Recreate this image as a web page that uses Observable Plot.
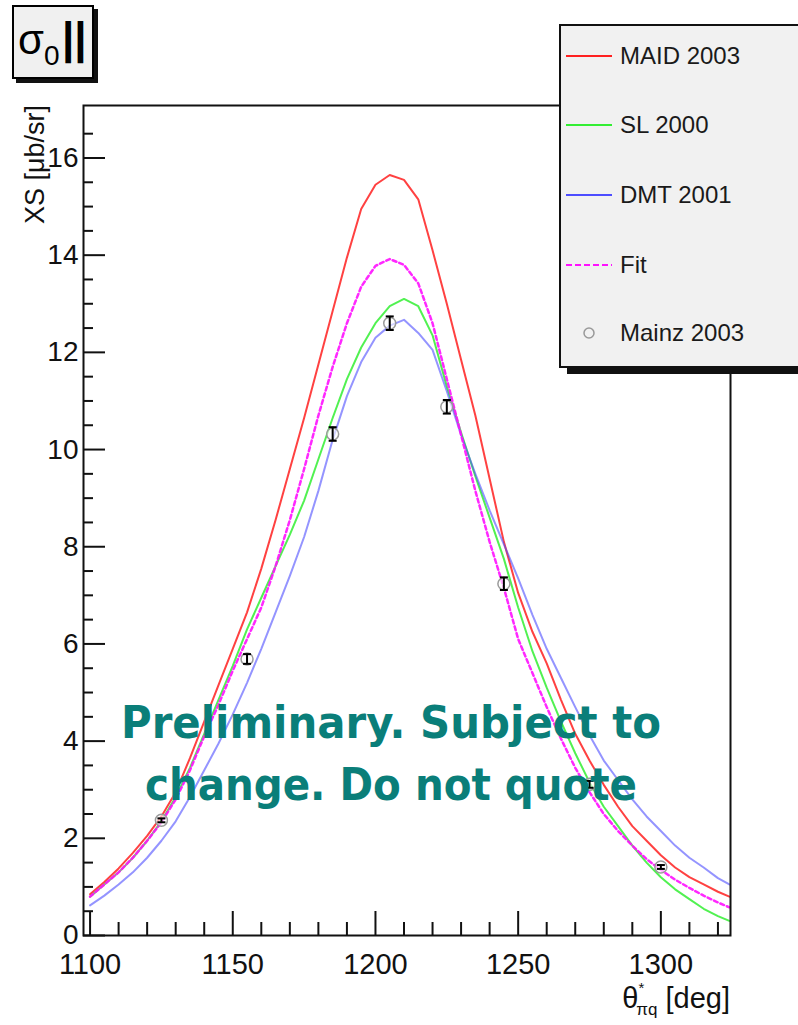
<!DOCTYPE html>
<html><head><meta charset="utf-8">
<script src="https://cdn.jsdelivr.net/npm/d3@7"></script>
<script src="https://cdn.jsdelivr.net/npm/@observablehq/plot@0.6"></script>
<style>
html,body{margin:0;padding:0;background:#fff;overflow:hidden;width:798px;height:1025px;}
#wrap{position:relative;width:798px;height:1025px;overflow:hidden;font-family:"Liberation Sans",Arial,sans-serif;}
#chart{position:absolute;left:0;top:0;}
#titlebox{position:absolute;left:12px;top:5px;width:82px;height:74px;box-sizing:border-box;border:2px solid #000;background:#f0f0f0;box-shadow:4px 4px 0 #111;}
#titlebox span{position:absolute;line-height:1;color:#000;white-space:nowrap;}
#legend{position:absolute;left:559px;top:24px;width:300px;height:344px;box-sizing:border-box;border:2px solid #111;background:#f1f1f1;box-shadow:8px 6px 0 #111;}
.row{position:absolute;left:0;height:30px;width:280px;}
.row svg{position:absolute;left:0;top:0;}
.row span{position:absolute;left:59px;top:0;line-height:30px;font-size:24px;color:#1a1a1a;white-space:nowrap;}
</style>
</head><body>
<div id="wrap">
  <div id="chart"></div>
  <div id="titlebox"><span style="left:4px;top:12px;font-size:42px;">σ</span><span style="left:30px;top:35px;font-size:28px;">0</span><span style="left:48px;top:9px;font-size:44px;font-weight:bold;">||</span></div>
  <div id="legend"></div>
</div>
<script>
// ---- data ----
const theta = [1100,1105,1110,1115,1120,1125,1130,1135,1140,1145,1150,1155,1160,1165,1170,1175,1180,1185,1190,1195,1200,1205,1210,1215,1220,1225,1230,1235,1240,1245,1250,1255,1260,1265,1270,1275,1280,1285,1290,1295,1300,1305,1310,1315,1320,1324];
const maid2003 = [0.85,1.1,1.38,1.7,2.05,2.45,2.95,3.65,4.4,5.15,5.9,6.65,7.55,8.55,9.6,10.65,11.75,12.85,13.95,14.95,15.45,15.65,15.55,15.15,14.1,13.0,11.85,10.7,9.4,8.1,7.05,6.25,5.6,4.85,4.15,3.6,3.1,2.65,2.25,1.95,1.65,1.4,1.2,1.05,0.9,0.8];
const sl2000 = [0.8,1.05,1.3,1.6,1.95,2.35,2.85,3.45,4.15,4.85,5.55,6.3,6.95,7.6,8.25,8.95,9.8,10.65,11.45,12.1,12.6,12.95,13.1,12.95,12.35,11.3,10.35,9.45,8.6,7.75,6.75,5.85,5.1,4.4,3.75,3.15,2.65,2.25,1.85,1.5,1.2,0.95,0.75,0.55,0.4,0.3];
const dmt2001 = [0.62,0.82,1.05,1.3,1.6,1.95,2.35,2.85,3.4,3.95,4.55,5.2,5.9,6.65,7.4,8.2,9.15,10.2,11.1,11.8,12.3,12.55,12.67,12.4,12.05,11.2,10.3,9.5,8.75,8.05,7.35,6.6,5.9,5.3,4.7,4.12,3.6,3.2,2.8,2.45,2.15,1.85,1.6,1.4,1.18,1.05];
const fit = [0.8,1.05,1.3,1.6,1.95,2.33,2.8,3.4,4.1,4.75,5.45,6.1,6.75,7.6,8.55,9.6,10.7,11.7,12.6,13.35,13.78,13.92,13.8,13.42,12.6,11.45,10.3,9.15,8.1,7.15,6.1,5.4,4.7,4.05,3.45,2.95,2.5,2.15,1.85,1.57,1.35,1.15,0.98,0.82,0.68,0.58];

const mainzTheta = [1125,1155,1185,1205,1225,1245,1275,1300];
const mainzXS    = [2.37,5.69,10.32,12.6,10.88,7.24,3.11,1.41];
const mainzErr   = [0.04,0.1,0.14,0.14,0.14,0.13,0.07,0.04];

const seriesNames  = ["MAID 2003","SL 2000","DMT 2001","Fit","Mainz 2003"];
const seriesColors = ["#ff2020","#33ee33","#4d4dff","#ff11ff","#999999"];

const xMajor = [1100,1150,1200,1250,1300];
const xMinor = [1110,1120,1130,1140,1160,1170,1180,1190,1210,1220,1230,1240,1260,1270,1280,1290,1310,1320];
const yMajor = [0,2,4,6,8,10,12,14,16];
const yMinor = [0.5,1,1.5,2.5,3,3.5,4.5,5,5.5,6.5,7,7.5,8.5,9,9.5,10.5,11,11.5,12.5,13,13.5,14.5,15,15.5,16.5];

// ---- tables ----
const rows = (vals) => theta.map((t, i) => ({theta: t, xs: vals[i]}));
const points = mainzTheta.map((t, i) => ({theta: t, xs: mainzXS[i], lo: mainzXS[i] - mainzErr[i], hi: mainzXS[i] + mainzErr[i]}));

const cap = {draw(ctx, size) { const w = Math.sqrt(size / Math.PI); ctx.moveTo(-w, 0); ctx.lineTo(w, 0); }};

const W = 798, H = 1025, mL = 83, mR = 68, mT = 105, mB = 90;
const plotW = W - mL - mR, plotH = H - mT - mB;

const chart = Plot.plot({
  width: W, height: H,
  marginLeft: mL, marginRight: mR, marginTop: mT, marginBottom: mB,
  x: {domain: [1097.7, 1324.4]},
  y: {domain: [0, 17.08]},
  style: {fontFamily: "'Liberation Sans', Arial, sans-serif", background: "transparent", color: "#111", overflow: "visible"},
  marks: [
    Plot.line(rows(maid2003), {x: "theta", y: "xs", stroke: seriesColors[0], strokeWidth: 2, strokeOpacity: 0.85}),
    Plot.line(rows(sl2000), {x: "theta", y: "xs", stroke: seriesColors[1], strokeWidth: 2, strokeOpacity: 0.85}),
    Plot.line(rows(dmt2001), {x: "theta", y: "xs", stroke: seriesColors[2], strokeWidth: 2, strokeOpacity: 0.6}),
    Plot.line(rows(fit), {x: "theta", y: "xs", stroke: seriesColors[3], strokeWidth: 2.5, strokeDasharray: "4,3", strokeOpacity: 0.9}),
    Plot.dot(points, {x: "theta", y: "xs", r: 6, stroke: "#9a9a9a", strokeWidth: 1.5, fill: "#fff", fillOpacity: 0.6}),
    Plot.ruleX(points, {x: "theta", y1: "lo", y2: "hi", stroke: "#000", strokeWidth: 2}),
    Plot.dot(points, {x: "theta", y: "lo", symbol: cap, r: 4, stroke: "#000", strokeWidth: 2}),
    Plot.dot(points, {x: "theta", y: "hi", symbol: cap, r: 4, stroke: "#000", strokeWidth: 2}),
    Plot.tickY(yMinor, {y: d => d, insetRight: plotW - 10, stroke: "#111", strokeWidth: 2}),
    Plot.tickY(yMajor, {y: d => d, insetRight: plotW - 22, stroke: "#111", strokeWidth: 2}),
    Plot.tickX(xMinor, {x: d => d, insetTop: plotH - 13, stroke: "#111", strokeWidth: 2}),
    Plot.tickX(xMajor, {x: d => d, insetTop: plotH - 24, stroke: "#111", strokeWidth: 2}),
    Plot.axisY({ticks: yMajor, tickSize: 0, tickPadding: 5, fontSize: 28, tickFormat: d => String(d), label: null, fill: "#111"}),
    Plot.axisX({ticks: xMajor, tickSize: 0, tickPadding: 18, fontSize: 29, tickFormat: d => String(d), label: null, fill: "#111"}),
    Plot.frame({stroke: "#111", strokeWidth: 2})
  ]
});
document.getElementById("chart").appendChild(chart);

const svg = d3.select(chart);
// y-axis title
svg.append("text")
  .attr("transform", `translate(35,${mT}) rotate(-90)`)
  .attr("text-anchor", "end").attr("dy", "0.35em")
  .attr("font-size", 27).attr("fill", "#111")
  .text("XS [μb/sr]");
// x-axis title
const xt = svg.append("text")
  .attr("x", mL + plotW).attr("y", 1008)
  .attr("text-anchor", "end").attr("font-size", 29).attr("fill", "#111");
xt.append("tspan").text("θ");
xt.append("tspan").attr("font-size", 15).attr("dy", -15).text("*");
xt.append("tspan").attr("font-size", 17).attr("dx", -8).attr("dy", 22).text("πq");
xt.append("tspan").attr("dy", -7).text(" [deg]");
// watermark
const wm = [["Preliminary. Subject to", 738, 540], ["change. Do not quote", 800, 492]];
wm.forEach(([t, y, len]) => {
  svg.append("text").attr("x", 391).attr("y", y).attr("text-anchor", "middle")
    .attr("font-family", "'DejaVu Sans', sans-serif").attr("font-weight", "bold")
    .attr("font-size", 45).attr("fill", "#0a7e79")
    .attr("textLength", len).attr("lengthAdjust", "spacingAndGlyphs")
    .text(t);
});

// legend
const legend = document.getElementById("legend");
const rowCenters = [30, 99, 169, 239, 307];
seriesNames.forEach((name, i) => {
  const row = document.createElement("div");
  row.className = "row";
  row.style.top = (rowCenters[i] - 15) + "px";
  let sample;
  if (i < 4) {
    sample = `<svg width="60" height="30"><line x1="5" x2="51" y1="15" y2="15" stroke="${seriesColors[i]}" stroke-width="2" ${i === 3 ? 'stroke-dasharray="6,3"' : ''}/></svg>`;
  } else {
    sample = `<svg width="60" height="30"><circle cx="28" cy="15" r="5" fill="none" stroke="${seriesColors[i]}" stroke-width="1.5"/></svg>`;
  }
  row.innerHTML = sample + `<span>${name}</span>`;
  legend.appendChild(row);
});
</script>
</body></html>
